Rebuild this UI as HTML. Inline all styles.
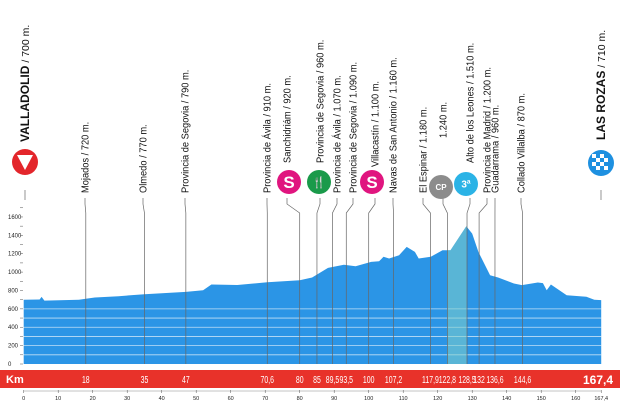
<!DOCTYPE html>
<html><head><meta charset="utf-8"><style>
html,body{margin:0;padding:0;background:#fff}
svg{display:block}
text{font-family:"Liberation Sans Narrow","Liberation Sans",sans-serif}
</style></head><body>
<svg id="c" width="620" height="403" viewBox="0 0 620 403" xmlns="http://www.w3.org/2000/svg"></svg>
<script>
const profileKm=[0,4.6,5.2,6,16,18,20.6,27.5,35,47,52,54.4,61.9,70.6,80,83.6,88.2,92.8,96.2,100.7,103,104.3,105.9,108.8,111,113.4,114.5,118,121.4,123.7,128.3,130,131.8,135.2,137.5,142.1,144.4,149,150.5,151.6,152.8,157.4,163.1,165.4,167.4];
const profileElev=[700,702,730,690,700,710,724,738,760,785,803,865,860,890,912,941,1046,1079,1064,1111,1118,1166,1148,1184,1274,1220,1148,1166,1238,1238,1500,1419,1220,966,941,876,858,887,880,803,865,749,731,700,695];
const wpKm=[18,35,47,70.6,80,85,89.5,93.5,100,107.2,117.9,122.8,128.5,132,136.6,144.6];
const wpKmLabel=["18","35","47","70,6","80","85","89,5","93,5","100","107,2","117,9","122,8","128,5","132","136,6","144,6"];
const wpName=["Mojados / 720 m.","Olmedo / 770 m.","Provincia de Segovia / 790 m.","Provincia de Ávila / 910 m.","Sanchidriám / 920 m.","Provincia de Segovia / 960 m.","Provincia de Ávila / 1.070 m.","Provincia de Segovia / 1.090 m.","Villacastín / 1.100 m.","Navas de San Antonio / 1.160 m.","El Espinar / 1.180 m.","1.240 m.","Alto de los Leones  / 1.510 m.","Provincia de Madrid / 1.200 m.","Guadarrama / 960 m.","Collado Villalba / 870 m."];
const yTicks=[0,200,400,600,800,1000,1200,1400,1600];
const xTicks=[0,10,20,30,40,50,60,70,80,90,100,110,120,130,140,150,160];
const climbStart=122.8, climbEnd=128.5;

// layout (not data)
const labelX=[85,143,185,267,287,320,337,353,375,393,423,443,470,487,495,521];
const labelBottom=[193,193,193,193,163,163,193,193,167,193,193,138,163,193,193,193];
const X=km=>23.7+km*3.45;
const Y=m=>364-m*0.0919;
const svg=document.getElementById('c');
const NS="http://www.w3.org/2000/svg";
function mk(tag,attrs,parent){const e=document.createElementNS(NS,tag);for(const k in attrs)e.setAttribute(k,attrs[k]);(parent||svg).appendChild(e);return e;}

let d="M"+X(0)+","+Y(0);
profileKm.forEach((k,i)=>{d+=" L"+X(k).toFixed(1)+","+Y(profileElev[i]).toFixed(1);});
d+=" L"+X(167.4)+","+Y(0)+" Z";
const area=mk('path',{d:d,fill:'#2b95e6'});


[100,200,300,400,500,600].forEach(v=>{
  const s=mk('line',{x1:X(0),x2:X(167.4),y1:Y(v),y2:Y(v),stroke:'#ffffff','stroke-width':0.8,opacity:0.7});
  
  
});
const hl=mk('rect',{x:X(climbStart),y:Y(1520),width:X(climbEnd)-X(climbStart),height:Y(0)-Y(1520),fill:'#7fd0c8',opacity:0.55});


const cp=mk('clipPath',{id:'pc'});mk('path',{d:d},cp);hl.setAttribute('clip-path','url(#pc)');

yTicks.forEach(v=>{
  const t=mk('text',{x:8,y:Y(v)+2,'font-size':6,fill:'#222'});t.textContent=v;
  
  
});
for(let v=0;v<=1700;v+=100){mk('line',{x1:20,x2:23,y1:Y(v),y2:Y(v),stroke:'#555','stroke-width':0.5});}

wpKm.forEach((k,i)=>{
  const x=X(k),lx=labelX[i];
  const pl=mk('polyline',{points:`${lx},198 ${lx},204 ${x},213 ${x},${Y(0)}`,fill:'none',stroke:'#666','stroke-width':0.7});
  
  
  const t=mk('text',{transform:`translate(${lx+3.5},${labelBottom[i]}) rotate(-90) scale(0.93,1)`,'font-size':10,fill:'#111'});
  t.textContent=wpName[i];
  
  
});

mk('line',{x1:25,x2:25,y1:190,y2:200,stroke:'#666','stroke-width':0.7});
mk('line',{x1:601,x2:601,y1:190,y2:200,stroke:'#666','stroke-width':0.7});
const st=mk('g',{});
mk('circle',{cx:25,cy:162,r:13,fill:'#e3262b'},st);
mk('polygon',{points:'17,155 33,155 25,170',fill:'#fff'},st);
const sl=mk('text',{transform:'translate(29,142) rotate(-90)','font-size':10.5,fill:'#111'});
sl.innerHTML='<tspan font-weight="bold" font-size="12">VALLADOLID</tspan> / 700 m.';

const fi=mk('g',{});
mk('circle',{cx:601,cy:163,r:13,fill:'#1e90e0'},fi);
for(let r=0;r<4;r++)for(let c=0;c<4;c++)if((r+c)%2==0)mk('rect',{x:594+c*4-2,y:156+r*4-2,width:4,height:4,fill:'#fff'},fi);
const fl=mk('text',{transform:'translate(605,140) rotate(-90)','font-size':10.5,fill:'#111'});
fl.innerHTML='<tspan font-weight="bold" font-size="12">LAS ROZAS</tspan> / 710 m.';


function icon(cx,cy,col,txt,name,fs){
  const g=mk('g',{});
  
  
  mk('circle',{cx:cx,cy:cy,r:12,fill:col},g);
  const t=mk('text',{x:cx,y:cy+fs*0.36,'text-anchor':'middle','font-size':fs,'font-weight':'bold',fill:'#fff'},g);t.textContent=txt;
}
icon(289,182,'#e0157f','S','sprint-icon-1',17);
icon(319,182,'#1a9a4a','🍴','feed-zone-icon',11);
icon(372,182,'#e0157f','S','sprint-icon-2',17);
icon(441,187,'#8c8c8c','CP','checkpoint-icon',8);
icon(466,184,'#2bb3e6','3ª','climb-category-icon',10);

const bar=mk('rect',{x:0,y:370,width:620,height:18,fill:'#e8322a'});

const km=mk('text',{x:6,y:383,'font-size':11,'font-weight':'bold',fill:'#fff'});km.textContent='Km';

wpKmLabel.forEach((s,i)=>{
  const t=mk('text',{transform:`translate(${X(wpKm[i])},383) scale(0.66,1)`,'font-size':10.5,'text-anchor':'middle',fill:'#fff'});t.textContent=s;
  
  
});
const tot=mk('text',{x:613,y:384,'font-size':12,'font-weight':'bold','text-anchor':'end',fill:'#fff'});tot.textContent='167,4';


mk('line',{x1:X(0),x2:X(167.4),y1:391,y2:391,stroke:'#888','stroke-width':0.5});
xTicks.concat([167.4]).forEach(v=>{
  mk('line',{x1:X(v),x2:X(v),y1:390,y2:393,stroke:'#555','stroke-width':0.5});
  const t=mk('text',{x:X(v),y:400,'font-size':5.5,'text-anchor':'middle',fill:'#222'});
  t.textContent=v===167.4?'167,4':v;
  
  
});
</script>
</body></html>
